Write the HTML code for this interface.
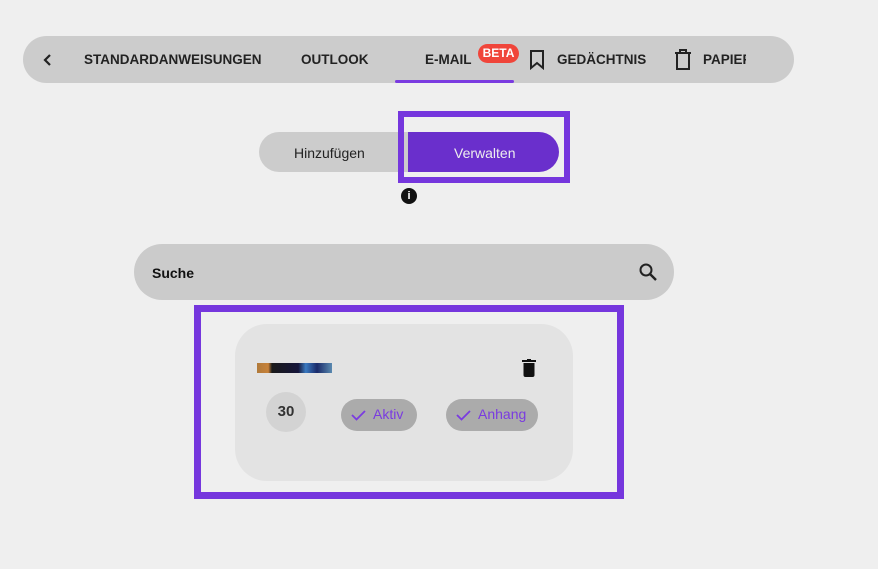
<!DOCTYPE html>
<html><head><style>
body{margin:0;width:878px;height:569px;background:#efefef;font-family:"Liberation Sans",sans-serif;position:relative;overflow:hidden}
.a{position:absolute}
.nav{left:23px;top:36px;width:771px;height:47px;border-radius:24px;background:#cccccc}
.t{font-size:13.5px;font-weight:bold;color:#222;letter-spacing:0;top:52px}
</style></head><body>
<div class="a nav"></div>
<svg class="a" style="left:42px;top:53px" width="12" height="14"><path d="M8 2 L3 7 L8 12" stroke="#222" stroke-width="2.2" fill="none"/></svg>
<div class="a t" style="left:84px">STANDARDANWEISUNGEN</div>
<div class="a t" style="left:301px">OUTLOOK</div>
<div class="a t" style="left:425px">E-MAIL</div>
<div class="a" style="left:478px;top:44px;width:41px;height:19px;border-radius:10px;background:#f0453a;color:#fff;font-size:12px;font-weight:bold;text-align:center;line-height:19px">BETA</div>
<div class="a" style="left:395px;top:80px;width:119px;height:3px;background:#7a3be0;border-radius:2px"></div>
<svg class="a" style="left:529px;top:50px" width="16" height="20"><path d="M2 1 H14 V18 L8 13 L2 18 Z" stroke="#222" stroke-width="2" fill="none"/></svg>
<div class="a t" style="left:557px">GEDÄCHTNIS</div>
<svg class="a" style="left:674px;top:49px" width="18" height="22"><path d="M1 4 H17 M6 4 V1 H12 V4 M3 4 V20 H15 V4" stroke="#222" stroke-width="2" fill="none"/></svg>
<div class="a t" style="left:703px;width:43px;overflow:hidden;white-space:nowrap">PAPIERKORB</div>

<div class="a" style="left:259px;top:132px;width:160px;height:40px;border-radius:20px 0 0 20px;background:#cccccc"></div>
<div class="a" style="left:294px;top:145px;font-size:14px;color:#222">Hinzufügen</div>
<div class="a" style="left:408px;top:132px;width:151px;height:40px;border-radius:0 20px 20px 0;background:#6a2fcc"></div>
<div class="a" style="left:454px;top:145px;font-size:14px;color:#eee">Verwalten</div>
<div class="a" style="left:398px;top:111px;width:160px;height:60px;border:6px solid #7536dd"></div>
<div class="a" style="left:401px;top:188px;width:16px;height:16px;border-radius:50%;background:#111;color:#fff;font-size:11px;font-weight:bold;text-align:center;line-height:16px">i</div>

<div class="a" style="left:134px;top:244px;width:540px;height:56px;border-radius:28px;background:#cbcbcb"></div>
<div class="a" style="left:152px;top:265px;font-size:14px;font-weight:bold;color:#111">Suche</div>
<svg class="a" style="left:638px;top:262px" width="20" height="20"><circle cx="8" cy="8" r="5.5" stroke="#222" stroke-width="2" fill="none"/><path d="M12 12 L18 18" stroke="#222" stroke-width="2.4"/></svg>

<div class="a" style="left:194px;top:305px;width:416px;height:180px;border:7px solid #7536dd"></div>
<div class="a" style="left:235px;top:324px;width:338px;height:157px;border-radius:32px;background:#e3e3e3"></div>
<div class="a" style="left:257px;top:363px;width:75px;height:10px;background:linear-gradient(90deg,#b07a3a 0,#c8823a 15%,#1a1a1a 20%,#15153a 55%,#3a7ac0 65%,#1a2a6a 80%,#5a8ab0 100%)"></div>
<svg class="a" style="left:521px;top:358px" width="16" height="20"><path d="M1 3 H15" stroke="#111" stroke-width="2"/><path d="M6 2 H10" stroke="#111" stroke-width="2"/><path d="M2.5 5 H13.5 V17 Q13.5 19 11.5 19 H4.5 Q2.5 19 2.5 17 Z" fill="#111"/></svg>
<div class="a" style="left:266px;top:392px;width:40px;height:40px;border-radius:50%;background:#d3d3d3;font-size:15px;font-weight:bold;color:#333;text-align:center;line-height:40px">30</div>
<div class="a" style="left:341px;top:399px;width:76px;height:32px;border-radius:16px;background:#ababab"></div>
<svg class="a" style="left:351px;top:408px" width="16" height="14"><path d="M1 7 L5.5 11.5 L14 3" stroke="#7a3be0" stroke-width="1.8" fill="none"/></svg>
<div class="a" style="left:373px;top:406px;font-size:14px;color:#7a3be0">Aktiv</div>
<div class="a" style="left:446px;top:399px;width:92px;height:32px;border-radius:16px;background:#ababab"></div>
<svg class="a" style="left:456px;top:408px" width="16" height="14"><path d="M1 7 L5.5 11.5 L14 3" stroke="#7a3be0" stroke-width="1.8" fill="none"/></svg>
<div class="a" style="left:478px;top:406px;font-size:14px;color:#7a3be0">Anhang</div>
</body></html>
